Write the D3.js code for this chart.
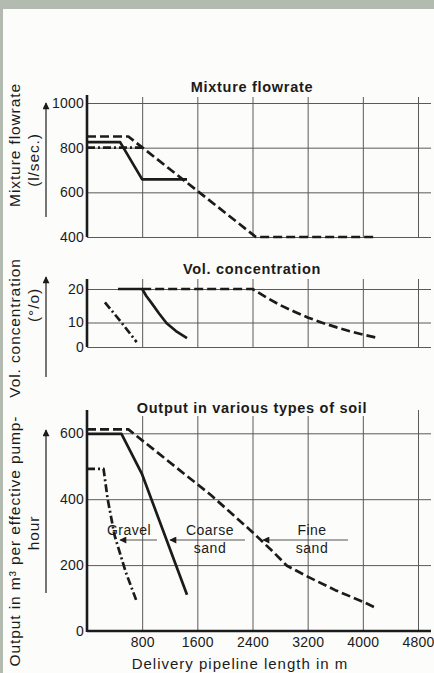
<!DOCTYPE html>
<html>
<head>
<meta charset="utf-8">
<script src="https://cdn.jsdelivr.net/npm/d3@7/dist/d3.min.js"></script>
<style>
  html, body { margin: 0; padding: 0; background: #b3bbb1; }
  svg { display: block; font-family: "Liberation Sans", Arial, sans-serif; }
</style>
</head>
<body>
<svg id="chart" width="434" height="673"></svg>
<script>
// shared x values (delivery pipeline length, m)
const xTicks = [800, 1600, 2400, 3200, 4000, 4800];

// Mixture flowrate (l/sec.)
const flowTicks = [400, 600, 800, 1000];
const flowFine = [[0, 850], [600, 850], [2450, 400], [4200, 400]];
const flowCoarse = [[0, 825], [480, 825], [800, 658], [1450, 658]];
const flowGravel = [[0, 800], [800, 800]];

// Vol. concentration (%)
const concTicks = [0, 10, 20];
const concFine = [[800, 20], [2400, 20], [2600, 17.5], [2800, 15.2], [3000, 13.3], [3200, 11.5], [3400, 10], [3600, 8.2], [3800, 6.5], [4000, 5.1], [4200, 3.8]];
const concCoarse = [[450, 20], [800, 20], [860, 17.9], [940, 15.7], [1045, 12.7], [1155, 9.7], [1290, 6.5], [1450, 3.6]];
const concGravel = [[260, 16], [500, 10], [720, 2]];

// Output in m3 per effective pump-hour
const outTicks = [0, 200, 400, 600];
const outFine = [[0, 612], [600, 612], [1800, 412], [2400, 300], [2700, 240], [2900, 198], [3200, 165], [3600, 124], [4000, 89], [4200, 69]];
const outCoarse = [[0, 598], [500, 598], [800, 475], [1450, 110]];
const outGravel = [[0, 492], [240, 492], [300, 400], [400, 290], [560, 180], [720, 90]];

const soilLabels = [
    { lines: ["Gravel"], x: 129, from: 157, to: 120 },
    { lines: ["Coarse", "sand"], x: 210, from: 245, to: 170 },
    { lines: ["Fine", "sand"], x: 312, from: 348, to: 263 }
];

let svg = d3.select("#chart");
let ink = "#1b1b1b";
let paper = "#fcfcfa";
let gridRight = 431;

// paper
svg.append("rect").attr("x", 3).attr("y", 9).attr("width", 431).attr("height", 664).attr("fill", paper);

let x = d3.scaleLinear().domain([0, 4800]).range([87, 418]);

let panels = [
    {
        title: "Mixture flowrate", titleY: 92, top: 97, axisTop: 95, bottom: 237,
        y: d3.scaleLinear().domain([400, 1000]).range([237, 103]),
        ticks: flowTicks, series: [flowFine, flowCoarse, flowGravel], thickBase: false
    },
    {
        title: "Vol. concentration", titleY: 274, top: 279, axisTop: 279, bottom: 347,
        y: d3.scaleLinear().domain([0, 10, 20]).range([347, 322.5, 289]),
        ticks: concTicks, series: [concFine, concCoarse, concGravel], thickBase: false
    },
    {
        title: "Output in various types of soil", titleY: 413, top: 410, axisTop: 410, bottom: 631,
        y: d3.scaleLinear().domain([0, 600]).range([631, 433.3]),
        ticks: outTicks, series: [outFine, outCoarse, outGravel], thickBase: true
    }
];

let styles = [
    { dash: "9,4" },      // fine sand
    { dash: null },       // coarse sand
    { dash: "8,3,2,3" }   // gravel
];

panels.forEach(p => {
    let g = svg.append("g");

    // horizontal grid
    g.append("g")
        .attr("transform", `translate(${x(0)},0)`)
        .call(d3.axisLeft(p.y).tickValues(p.ticks).tickSize(-(gridRight - x(0))).tickFormat(""))
        .call(a => a.select(".domain").remove())
        .call(a => a.selectAll("line").attr("stroke", "#5a5a5a").attr("stroke-width", 1));

    // vertical grid
    g.append("g")
        .attr("transform", `translate(0,${p.bottom})`)
        .call(d3.axisBottom(x).tickValues(xTicks).tickSize(-(p.bottom - p.top)).tickFormat(""))
        .call(a => a.select(".domain").remove())
        .call(a => a.selectAll("line").attr("stroke", "#5a5a5a").attr("stroke-width", 1));

    // title with white backing
    let t = g.append("text")
        .attr("x", 252).attr("y", p.titleY)
        .attr("text-anchor", "middle")
        .attr("fill", ink)
        .style("font-size", "14.5px")
        .style("font-weight", "bold")
        .style("letter-spacing", "0.7px")
        .text(p.title);
    let bb = t.node().getBBox();
    g.insert("rect", () => t.node())
        .attr("x", bb.x - 2).attr("y", bb.y).attr("width", bb.width + 4).attr("height", bb.height)
        .attr("fill", paper);

    // y tick labels
    g.append("g")
        .attr("transform", `translate(${x(0) - 3},0)`)
        .call(d3.axisLeft(p.y).tickValues(p.ticks).tickSize(0).tickPadding(0).tickFormat(d3.format("d")))
        .call(a => a.select(".domain").remove())
        .call(a => a.selectAll("text")
            .attr("fill", ink)
            .style("font-size", "14px")
            .style("font-family", "'Liberation Sans', Arial, sans-serif")
            .style("letter-spacing", "0.2px"));

    // y axis line
    g.append("line")
        .attr("x1", x(0)).attr("x2", x(0))
        .attr("y1", p.axisTop).attr("y2", p.bottom + (p.thickBase ? 1 : 0))
        .attr("stroke", ink).attr("stroke-width", 2.6);

    if (p.thickBase) {
        g.append("line")
            .attr("x1", x(0)).attr("x2", gridRight)
            .attr("y1", p.bottom).attr("y2", p.bottom)
            .attr("stroke", ink).attr("stroke-width", 2.4);
    }

    // data lines
    let line = d3.line()
        .x(d => x(d[0]))
        .y(d => p.y(d[1]));

    p.series.forEach((s, i) => {
        g.append("path")
            .datum(s)
            .attr("d", line)
            .attr("fill", "none")
            .attr("stroke", ink)
            .attr("stroke-width", 2.7)
            .attr("stroke-linejoin", "round")
            .attr("stroke-dasharray", styles[i].dash);
    });
});

// x tick labels (bottom panel)
svg.append("g")
    .attr("transform", `translate(0,${panels[2].bottom + 6})`)
    .call(d3.axisBottom(x).tickValues(xTicks).tickSize(0).tickPadding(0).tickFormat(d3.format("d")))
    .call(a => a.select(".domain").remove())
    .call(a => a.selectAll("text")
        .attr("fill", ink)
        .style("font-size", "14px")
        .style("font-family", "'Liberation Sans', Arial, sans-serif")
        .style("letter-spacing", "0.2px"));

svg.append("text")
    .attr("x", 240).attr("y", 669)
    .attr("text-anchor", "middle")
    .attr("fill", ink)
    .style("font-size", "15px")
    .style("letter-spacing", "1px")
    .text("Delivery pipeline length in m");

// y axis titles
let yTitles = [
    { text: "Mixture flowrate", x: 20, y: 145 },
    { text: "(l/sec.)", x: 39, y: 160 },
    { text: "Vol. concentration", x: 20, y: 328 },
    { text: "(°/o)", x: 39, y: 305 },
    { text: "Output in m³ per effective pump-", x: 20, y: 541 },
    { text: "hour", x: 39, y: 533 }
];
yTitles.forEach(d => {
    svg.append("text")
        .attr("transform", `translate(${d.x},${d.y}) rotate(-90)`)
        .attr("text-anchor", "middle")
        .attr("fill", ink)
        .style("font-size", "15.5px")
        .style("letter-spacing", "0.9px")
        .text(d.text);
});

// arrow marker
svg.append("defs").append("marker")
    .attr("id", "head")
    .attr("viewBox", "0 0 10 10")
    .attr("refX", 9).attr("refY", 5)
    .attr("markerWidth", 9).attr("markerHeight", 7)
    .attr("markerUnits", "userSpaceOnUse")
    .attr("orient", "auto")
    .append("path")
    .attr("d", "M0,0 L10,5 L0,10 Z")
    .attr("fill", ink);

let yArrows = [
    { x: 46, y1: 217, y2: 103 },
    { x: 46, y1: 377, y2: 277 },
    { x: 46, y1: 593, y2: 430 }
];
yArrows.forEach(a => {
    svg.append("line")
        .attr("x1", a.x).attr("x2", a.x)
        .attr("y1", a.y1).attr("y2", a.y2)
        .attr("stroke", ink).attr("stroke-width", 1.2)
        .attr("marker-end", "url(#head)");
});

// soil type labels with arrows
soilLabels.forEach(s => {
    s.lines.forEach((l, i) => {
        svg.append("text")
            .attr("x", s.x).attr("y", 535 + i * 18)
            .attr("text-anchor", "middle")
            .attr("fill", ink)
            .style("font-size", "14px")
            .style("letter-spacing", "0.5px")
            .text(l);
    });
    svg.append("line")
        .attr("x1", s.from).attr("x2", s.to)
        .attr("y1", 540).attr("y2", 540)
        .attr("stroke", "#555").attr("stroke-width", 1)
        .attr("marker-end", "url(#head)");
});
</script>
</body>
</html>
